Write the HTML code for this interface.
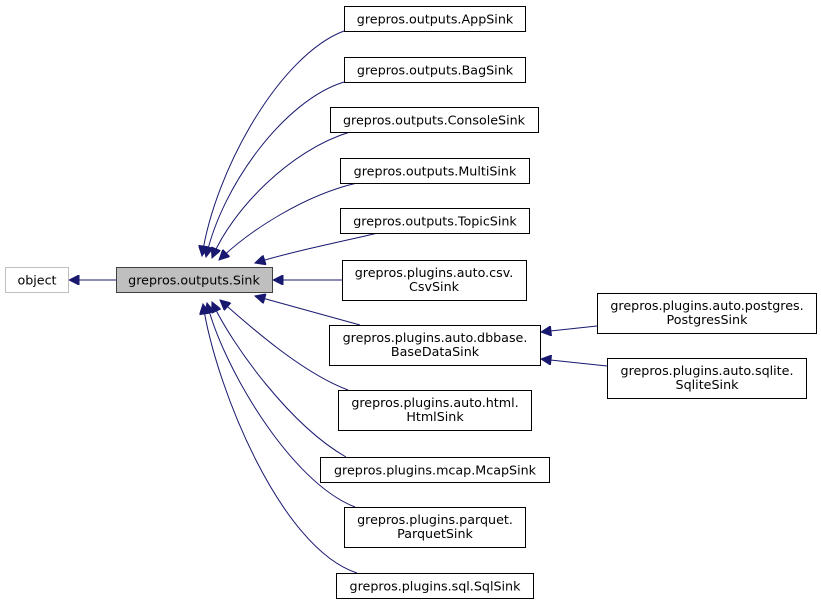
<!DOCTYPE html>
<html><head><meta charset="utf-8"><style>
html,body{margin:0;padding:0;background:#fff;}
svg{display:block;}
text{font-family:"DejaVu Sans","Liberation Sans",sans-serif;font-size:12.7px;fill:#000;}
</style></head><body>
<svg width="821" height="605" viewBox="0 0 821 605" xmlns="http://www.w3.org/2000/svg">
<defs>
<marker id="a" viewBox="0 0 10 10" refX="10" refY="5" markerWidth="12" markerHeight="10" markerUnits="userSpaceOnUse" orient="auto">
<path d="M0,0 L10,5 L0,10 z" fill="#191970" stroke="#191970"/>
</marker>
</defs>
<g fill="none" stroke="#191970" stroke-width="1" marker-end="url(#a)">
<path d="M116,280 L69,280"/>
<path d="M344,31 C280,55 215,170 202,256"/>
<path d="M344,82 C285,100 222,185 206,257"/>
<path d="M350,132 C290,150 232,210 212,258"/>
<path d="M357,183 C305,195 250,230 219,260"/>
<path d="M378,233 C340,242 290,252 255,263"/>
<path d="M342,280 L273,280"/>
<path d="M360,325 L255,296"/>
<path d="M348,390 C300,372 245,322 220,300"/>
<path d="M346,457 C290,425 232,345 212,302"/>
<path d="M355,507 C290,482 222,365 207,303"/>
<path d="M357,573 C280,548 215,385 203,304"/>
<path d="M597,326 L541,332"/>
<path d="M607,366 L541,359"/>
</g>
<g stroke-width="1">
<rect x="5.5" y="267.5" width="63" height="25" fill="#fff" stroke="#bfbfbf"/>
<rect x="116.5" y="267.5" width="156" height="25" fill="#bfbfbf" stroke="#404040"/>
<rect x="344.5" y="6.5" width="181" height="25" fill="#fff" stroke="#000"/>
<rect x="344.5" y="57.5" width="181" height="25" fill="#fff" stroke="#000"/>
<rect x="330.5" y="107.5" width="208" height="25" fill="#fff" stroke="#000"/>
<rect x="340.5" y="158.5" width="189" height="25" fill="#fff" stroke="#000"/>
<rect x="340.5" y="208.5" width="189" height="25" fill="#fff" stroke="#000"/>
<rect x="342.5" y="260.5" width="184" height="40" fill="#fff" stroke="#000"/>
<rect x="329.5" y="325.5" width="211" height="40" fill="#fff" stroke="#000"/>
<rect x="338.5" y="390.5" width="193" height="40" fill="#fff" stroke="#000"/>
<rect x="320.5" y="457.5" width="229" height="25" fill="#fff" stroke="#000"/>
<rect x="344.5" y="507.5" width="181" height="40" fill="#fff" stroke="#000"/>
<rect x="336.5" y="573.5" width="197" height="25" fill="#fff" stroke="#000"/>
<rect x="597.5" y="293.5" width="219" height="40" fill="#fff" stroke="#000"/>
<rect x="607.5" y="358.5" width="199" height="40" fill="#fff" stroke="#000"/>
</g>
<g text-anchor="middle">
<text x="37" y="284.5">object</text>
<text x="194" y="284.5">grepros.outputs.Sink</text>
<text x="435" y="23.5">grepros.outputs.AppSink</text>
<text x="435" y="74.5">grepros.outputs.BagSink</text>
<text x="434" y="124.5">grepros.outputs.ConsoleSink</text>
<text x="435" y="175.5">grepros.outputs.MultiSink</text>
<text x="435" y="225.5">grepros.outputs.TopicSink</text>
<text x="434" y="277">grepros.plugins.auto.csv.</text>
<text x="434" y="291">CsvSink</text>
<text x="435" y="342">grepros.plugins.auto.dbbase.</text>
<text x="435" y="356">BaseDataSink</text>
<text x="435" y="407">grepros.plugins.auto.html.</text>
<text x="435" y="421">HtmlSink</text>
<text x="435" y="474.5">grepros.plugins.mcap.McapSink</text>
<text x="435" y="524">grepros.plugins.parquet.</text>
<text x="435" y="538">ParquetSink</text>
<text x="435" y="590.5">grepros.plugins.sql.SqlSink</text>
<text x="707" y="310">grepros.plugins.auto.postgres.</text>
<text x="707" y="324">PostgresSink</text>
<text x="707" y="375">grepros.plugins.auto.sqlite.</text>
<text x="707" y="389">SqliteSink</text>
</g>
</svg>
</body></html>
